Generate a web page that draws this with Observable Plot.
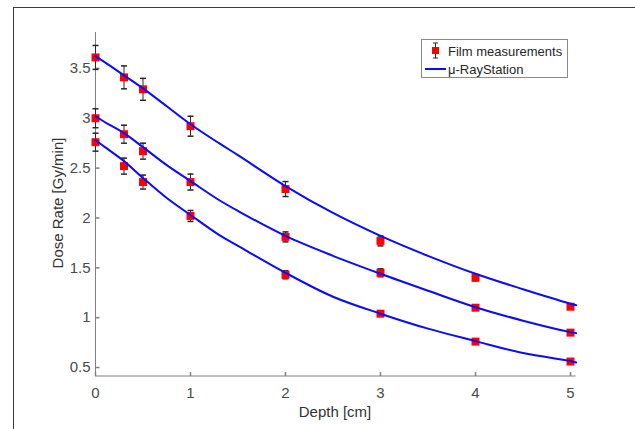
<!DOCTYPE html>
<html>
<head>
<meta charset="utf-8">
<script src="https://cdn.jsdelivr.net/npm/d3@7"></script>
<script src="https://cdn.jsdelivr.net/npm/@observablehq/plot@0.6"></script>
<style>
  body { margin: 0; background: #fff; }
  #wrap { position: relative; width: 635px; height: 429px; overflow: hidden; font-family: "Liberation Sans", Arial, sans-serif; color: #404040; }
  #chart { position: absolute; left: 0; top: 0; }
  #frame { position: absolute; left: 13px; top: 7px; width: 700px; height: 500px; border-left: 1px solid #3a3a3a; border-top: 1px solid #3a3a3a; pointer-events: none; }
  .title { position: absolute; font-size: 15px; white-space: nowrap; color: #333; }
  #xtitle { left: 335px; top: 411px; transform: translate(-50%, -50%); }
  #ytitle { left: 57px; top: 203px; transform: translate(-50%, -50%) rotate(-90deg); }
  #legend { position: absolute; left: 421px; top: 39px; width: 147px; height: 39px; box-sizing: border-box; border: 1px solid #8a8a8a; background: #fff; font-size: 13px; color: #262626; }
  #legend .item { position: absolute; left: 0; height: 18px; width: 147px; }
  #legend svg { position: absolute; left: 0; top: 0; }
  #legend span { position: absolute; left: 26px; top: 50%; transform: translateY(-50%); white-space: nowrap; }
</style>
</head>
<body>
<div id="wrap">
  <div id="chart"></div>
  <div id="frame"></div>
  <div class="title" id="xtitle">Depth [cm]</div>
  <div class="title" id="ytitle">Dose Rate [Gy/min]</div>
  <div id="legend"></div>
</div>
<script>
// ---- data ----
const depths = [0, 0.3, 0.5, 1, 2, 3, 4, 5];
const filmHigh    = [3.61, 3.41, 3.29, 2.92, 2.29, 1.77, 1.40, 1.11];
const filmHighErr = [0.12, 0.115, 0.11, 0.10, 0.075, 0.05, 0.03, 0.025];
const filmMid     = [3.00, 2.84, 2.67, 2.36, 1.81, 1.45, 1.10, 0.85];
const filmMidErr  = [0.095, 0.09, 0.08, 0.08, 0.05, 0.04, 0.025, 0.02];
const filmLow     = [2.76, 2.52, 2.36, 2.02, 1.43, 1.04, 0.76, 0.56];
const filmLowErr  = [0.09, 0.08, 0.07, 0.055, 0.04, 0.025, 0.02, 0.015];

const simDepths = [0, 0.1, 0.3, 0.5, 0.75, 1, 1.3, 1.5, 2, 2.5, 3, 3.5, 4, 4.5, 5, 5.06];
const simHigh = [3.62, 3.56, 3.43, 3.30, 3.12, 2.94, 2.75, 2.63, 2.32, 2.05, 1.82, 1.62, 1.44, 1.285, 1.14, 1.125];
const simMid  = [3.02, 2.96, 2.85, 2.71, 2.53, 2.37, 2.18, 2.07, 1.82, 1.62, 1.44, 1.27, 1.105, 0.97, 0.855, 0.845];
const simLow  = [2.78, 2.71, 2.57, 2.40, 2.20, 2.03, 1.83, 1.72, 1.45, 1.21, 1.04, 0.89, 0.765, 0.645, 0.565, 0.55];

const xTicks = [0, 1, 2, 3, 4, 5];
const yTicks = [0.5, 1, 1.5, 2, 2.5, 3, 3.5];
const xDomain = [0, 5.06];
const yDomain = [0.415, 3.86];
const legendLabels = ["Film measurements", "\u03bc-RayStation"];

// ---- tables ----
const film = [];
[[filmHigh, filmHighErr], [filmMid, filmMidErr], [filmLow, filmLowErr]].forEach(([v, e], s) =>
  depths.forEach((d, i) => film.push({series: s, depth: d, dose: v[i], lo: v[i] - e[i], hi: v[i] + e[i]})));
const sim = [];
[simHigh, simMid, simLow].forEach((v, s) =>
  simDepths.forEach((d, i) => sim.push({series: s, depth: d, dose: v[i]})));

const cap = {draw(ctx) { ctx.moveTo(-3, 0); ctx.lineTo(3, 0); }};
const tickUp = {draw(ctx) { ctx.moveTo(0, 0); ctx.lineTo(0, -4); }};
const tickRight = {draw(ctx) { ctx.moveTo(0, 0); ctx.lineTo(4, 0); }};

const axisColor = "#808080";
const errColor = "#262626";
const lineColor = "#0a0aff";
const markColor = "#ff0000";

const chart = Plot.plot({
  width: 635, height: 429,
  marginLeft: 95, marginRight: 59.3, marginTop: 32, marginBottom: 53.5,
  style: {fontFamily: "Liberation Sans, Arial, sans-serif", fontSize: "15px", color: "#4a4a4a", background: "transparent", overflow: "visible"},
  x: {domain: xDomain},
  y: {domain: yDomain},
  marks: [
    Plot.axisX({ticks: xTicks, tickSize: 0, tickPadding: 11, label: null, tickFormat: d => String(d)}),
    Plot.axisY({ticks: yTicks, tickSize: 0, tickPadding: 5, label: null, tickFormat: d => String(d)}),
    Plot.ruleX([xDomain[0]], {stroke: axisColor}),
    Plot.ruleY([yDomain[0]], {stroke: axisColor}),
    Plot.dot(xTicks, {x: d => d, frameAnchor: "bottom", symbol: tickUp, stroke: axisColor, r: 3}),
    Plot.dot(yTicks, {y: d => d, frameAnchor: "left", symbol: tickRight, stroke: axisColor, r: 3}),
    Plot.ruleX(film, {x: "depth", y1: "lo", y2: "hi", stroke: errColor, strokeWidth: 1}),
    Plot.dot(film, {x: "depth", y: "lo", symbol: cap, stroke: errColor, r: 3}),
    Plot.dot(film, {x: "depth", y: "hi", symbol: cap, stroke: errColor, r: 3}),
    Plot.dot(film, {x: "depth", y: "dose", symbol: "square", r: 4.5, fill: markColor, stroke: "none"}),
    Plot.line(sim, {x: "depth", y: "dose", z: "series", stroke: lineColor, strokeWidth: 2, curve: "catmull-rom"})
  ]
});
document.getElementById("chart").appendChild(chart);

// ---- legend ----
const lg = document.getElementById("legend");
lg.innerHTML = `
  <div class="item" style="top:2px">
    <svg width="26" height="18">
      <line x1="13.5" y1="1" x2="13.5" y2="16" stroke="${errColor}" stroke-width="1"/>
      <line x1="11" y1="1" x2="16" y2="1" stroke="${errColor}"/>
      <line x1="11" y1="16" x2="16" y2="16" stroke="${errColor}"/>
      <rect x="10" y="5" width="7" height="7" fill="${markColor}"/>
    </svg>
    <span>${legendLabels[0]}</span>
  </div>
  <div class="item" style="top:20px">
    <svg width="26" height="18">
      <line x1="3" y1="9" x2="24" y2="9" stroke="${lineColor}" stroke-width="2"/>
    </svg>
    <span>${legendLabels[1]}</span>
  </div>`;
</script>
</body>
</html>
